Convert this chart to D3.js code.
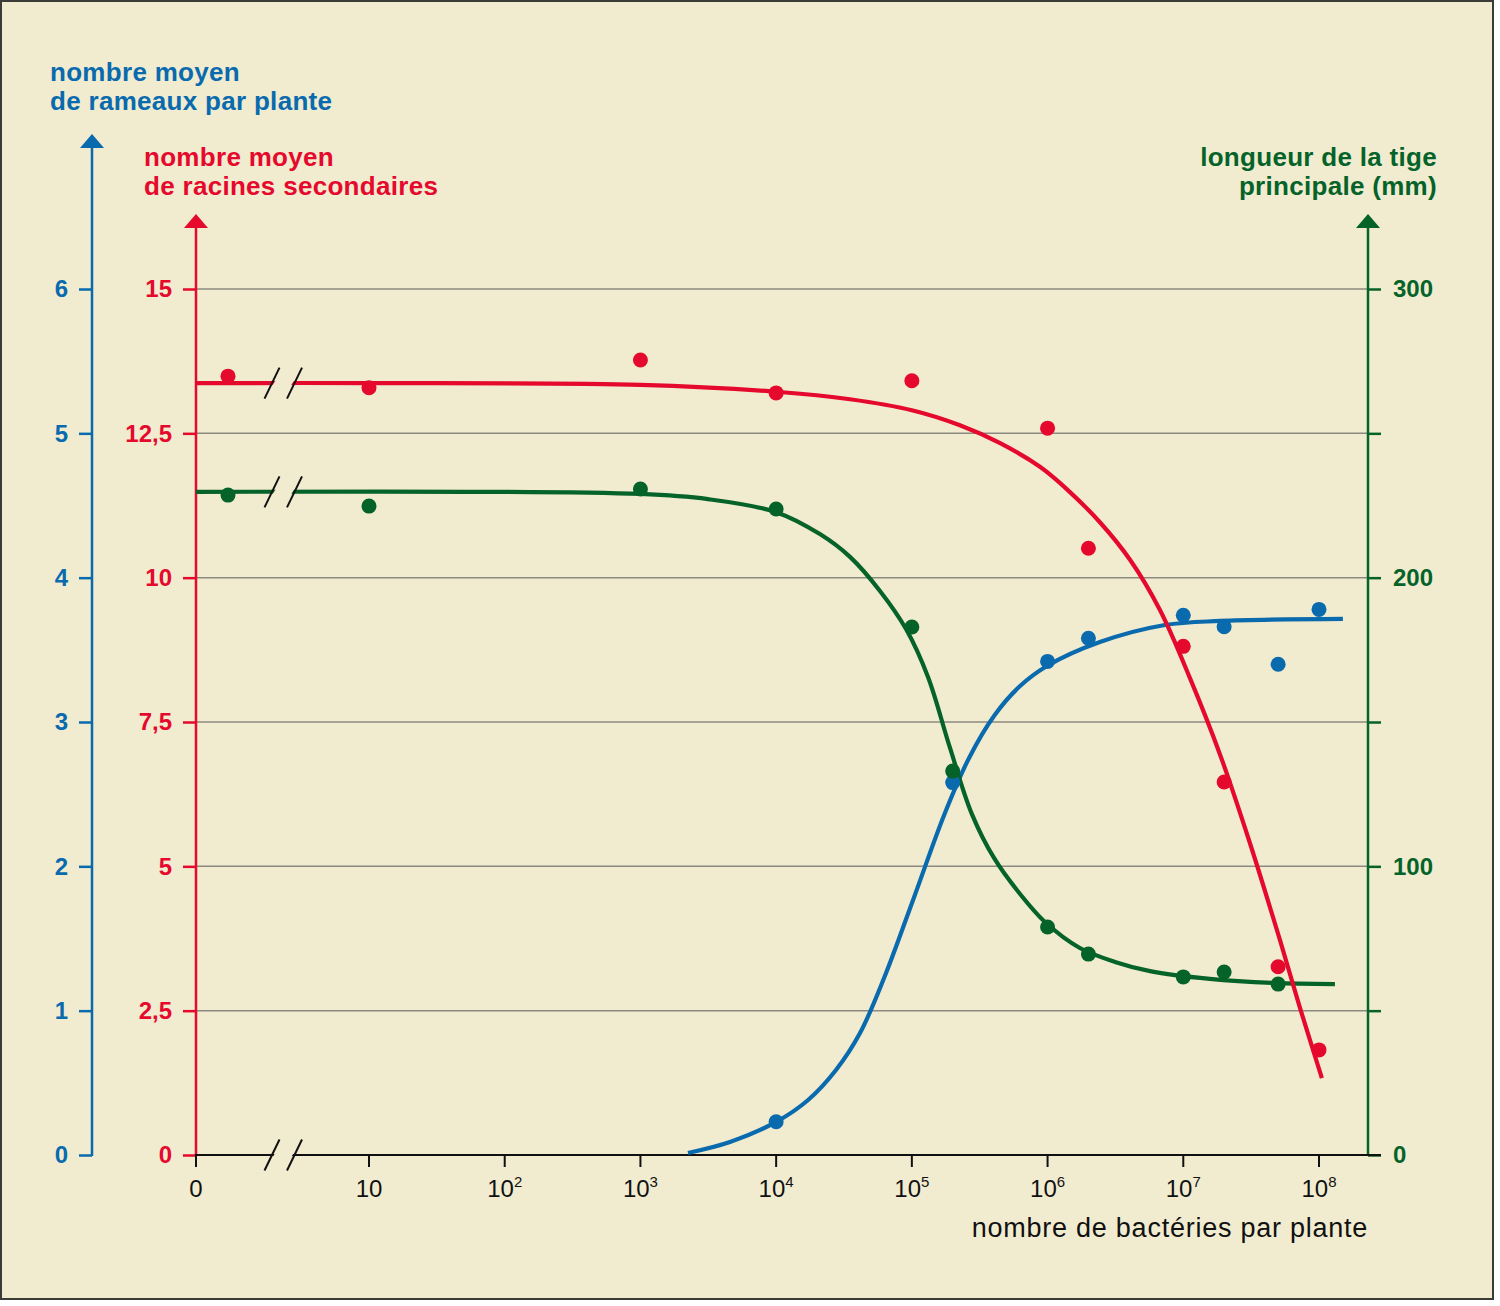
<!DOCTYPE html>
<html>
<head>
<meta charset="utf-8">
<script src="https://cdn.jsdelivr.net/npm/d3@7/dist/d3.min.js"></script>
<style>
  html, body { margin: 0; padding: 0; background: #ffffff; }
  svg { display: block; }
  text { font-family: "Liberation Sans", Arial, sans-serif; }
</style>
</head>
<body>
<svg id="chart" width="1500" height="1306"></svg>
<script>
// ---------- DATA ----------
// x: number of bacteria per plant (0 = control, plotted before the axis break)
const xTickValues = [10, 100, 1e3, 1e4, 1e5, 1e6, 1e7, 1e8];
const xTickExponents = ["", "2", "3", "4", "5", "6", "7", "8"];

// red: mean number of secondary roots
const redN      = [0, 10, 1e3, 1e4, 1e5, 1e6, 2e6, 1e7, 2e7, 5e7, 1e8];
const redValues = [13.49, 13.29, 13.77, 13.20, 13.41, 12.59, 10.51, 8.81, 6.46, 3.26, 1.82];
// green: length of main stem (mm)
const greenN      = [0, 10, 1e3, 1e4, 1e5, 2e5, 1e6, 2e6, 1e7, 2e7, 5e7];
const greenValues = [228.6, 224.8, 230.7, 223.8, 182.9, 133.0, 79.0, 69.6, 61.7, 63.4, 59.2];
// blue: mean number of branches per plant
const blueN      = [1e4, 2e5, 1e6, 2e6, 1e7, 2e7, 5e7, 1e8];
const blueValues = [0.23, 2.58, 3.42, 3.58, 3.74, 3.66, 3.40, 3.78];

// fitted curves
const redFitN = [0, 10, 1e3, 1e4, 3.5e4, 1e5, 2.26e5, 4.47e5, 8.79e5, 1.39e6, 2.43e6, 4.05e6, 6.73e6, 1.12e7, 1.87e7, 3.10e7, 5.16e7, 7.24e7, 1.05e8];
const redFitV = [13.37, 13.37, 13.34, 13.22, 13.09, 12.90, 12.64, 12.33, 11.92, 11.53, 10.96, 10.31, 9.44, 8.26, 6.93, 5.40, 3.72, 2.55, 1.33];
const greenFitN = [0, 1e3, 3.15e3, 1e4, 2.1e4, 3.5e4, 5.82e4, 9.06e4, 1.315e5, 1.91e5, 2.77e5, 4.03e5, 6.27e5, 9.57e5, 1.73e6, 3.14e6, 5.69e6, 1.57e7, 4.58e7, 1.31e8];
const greenFitV = [229.7, 229.0, 227.2, 222.7, 215.1, 207.2, 195.4, 182.2, 165.6, 141.0, 118.1, 102.9, 90.4, 80.7, 71.7, 66.9, 63.7, 61.0, 59.6, 59.2];
const blueFitN = [2.24e3, 4.57e3, 1e4, 1.72e4, 2.76e4, 4.15e4, 6.24e4, 1.04e5, 1.73e5, 2.64e5, 4.03e5, 6.27e5, 9.9e5, 2.43e6, 7.33e6, 1.87e7, 1.5e8];
const blueFitV = [0.014, 0.090, 0.229, 0.381, 0.589, 0.845, 1.226, 1.788, 2.356, 2.751, 3.042, 3.249, 3.388, 3.554, 3.672, 3.700, 3.714];

// axis ticks
const blueTicks = [0, 1, 2, 3, 4, 5, 6];
const redTicks = [0, 2.5, 5, 7.5, 10, 12.5, 15];
const greenTicks = [0, 50, 100, 150, 200, 250, 300];
const greenLabelled = [0, 100, 200, 300];

const blueTitle = ["nombre moyen", "de rameaux par plante"];
const redTitle = ["nombre moyen", "de racines secondaires"];
const greenTitle = ["longueur de la tige", "principale (mm)"];
const xTitle = "nombre de bactéries par plante";

// ---------- STYLE / LAYOUT ----------
const BG = "#f1ecd0";
const RED = "#e5092d", BLUE = "#0a6aae", GREEN = "#05632a", GRID = "#8c8a80";
const Y0 = 1155, YTOP = 289;
const X_ORIGIN = 196, X_RIGHT = 1368, CONTROL_X = 228;
const BLUE_AXIS_X = 92;

const svg = d3.select("#chart");
svg.append("rect").attr("x", 1).attr("y", 1).attr("width", 1492).attr("height", 1298)
  .attr("fill", BG).attr("stroke", "#3b3b38").attr("stroke-width", 2);

const xLog = d3.scaleLog().domain([10, 1e8]).range([369, 1319]);
const fx = n => n === 0 ? X_ORIGIN : xLog(n);
const px = n => n === 0 ? CONTROL_X : xLog(n);
const yRed = d3.scaleLinear().domain([0, 15]).range([Y0, YTOP]);
const yBlue = d3.scaleLinear().domain([0, 6]).range([Y0, YTOP]);
const yGreen = d3.scaleLinear().domain([0, 300]).range([Y0, YTOP]);

// gridlines
svg.append("g").selectAll("line").data(redTicks.filter(d => d > 0)).join("line")
  .attr("x1", X_ORIGIN).attr("x2", X_RIGHT)
  .attr("y1", d => yRed(d)).attr("y2", d => yRed(d))
  .attr("stroke", GRID).attr("stroke-width", 1.5);

// ---------- Y AXES ----------
function styleAxis(g, color) {
  g.select(".domain").remove();
  g.selectAll(".tick line").attr("stroke", color).attr("stroke-width", 2.5);
  g.selectAll(".tick text").attr("fill", color)
    .style("font-family", "'Liberation Sans', Arial, sans-serif")
    .style("font-size", "24px").style("font-weight", "bold");
}
function arrowAxis(x, yTipVal, color) {
  svg.append("line").attr("x1", x).attr("x2", x).attr("y1", Y0 + 1).attr("y2", yTipVal + 12)
    .attr("stroke", color).attr("stroke-width", 2.5);
  svg.append("path").attr("d", `M${x},${yTipVal} L${x - 12},${yTipVal + 14} L${x + 12},${yTipVal + 14} Z`)
    .attr("fill", color);
}

const gBlue = svg.append("g").attr("transform", `translate(${BLUE_AXIS_X},0)`)
  .call(d3.axisLeft(yBlue).tickValues(blueTicks).tickSize(13).tickPadding(11).tickFormat(d3.format("d")));
styleAxis(gBlue, BLUE);
arrowAxis(BLUE_AXIS_X, 134, BLUE);

const gRed = svg.append("g").attr("transform", `translate(${X_ORIGIN},0)`)
  .call(d3.axisLeft(yRed).tickValues(redTicks).tickSize(13).tickPadding(11)
    .tickFormat(d => String(d).replace(".", ",")));
styleAxis(gRed, RED);
arrowAxis(X_ORIGIN, 214, RED);

const gGreen = svg.append("g").attr("transform", `translate(${X_RIGHT},0)`)
  .call(d3.axisRight(yGreen).tickValues(greenTicks).tickSize(13).tickPadding(12)
    .tickFormat(d => greenLabelled.includes(d) ? d : ""));
styleAxis(gGreen, GREEN);
arrowAxis(X_RIGHT, 214, GREEN);

// ---------- X AXIS ----------
svg.append("line").attr("x1", X_ORIGIN - 1).attr("x2", X_RIGHT + 13).attr("y1", Y0).attr("y2", Y0)
  .attr("stroke", "#111").attr("stroke-width", 2);
const xt = svg.append("g");
[0].concat(xTickValues).forEach((v, i) => {
  const x = fx(v);
  xt.append("line").attr("x1", x).attr("x2", x).attr("y1", Y0).attr("y2", Y0 + 12)
    .attr("stroke", "#111").attr("stroke-width", 2);
  const t = xt.append("text").attr("x", x).attr("y", 1197).attr("text-anchor", "middle")
    .attr("fill", "#111").style("font-size", "24px");
  if (v === 0) { t.text("0"); }
  else {
    t.append("tspan").text("10");
    const e = xTickExponents[i - 1];
    if (e) t.append("tspan").attr("dy", -10).style("font-size", "15px").text(e);
  }
});
svg.append("text").attr("x", X_RIGHT).attr("y", 1237).attr("text-anchor", "end")
  .attr("fill", "#111").style("font-size", "27px").style("letter-spacing", "0.75px").text(xTitle);

// ---------- CURVES ----------
const line = d3.line().curve(d3.curveCatmullRom.alpha(0.5));
function drawFit(N, V, yS, color) {
  svg.append("path").attr("d", line(N.map((n, i) => [fx(n), yS(V[i])])))
    .attr("fill", "none").attr("stroke", color).attr("stroke-width", 4.2);
}
drawFit(blueFitN, blueFitV, yBlue, BLUE);
drawFit(greenFitN, greenFitV, yGreen, GREEN);
drawFit(redFitN, redFitV, yRed, RED);

// axis breaks
function breakMark(cy) {
  const g = svg.append("g");
  const x1 = 272, x2 = 294.5, dx = 7.5, dy = 15.5;
  g.append("path").attr("d", `M${x1 - dx + 2},${cy + dy - 4} L${x1 + dx + 2},${cy - dy + 4} L${x2 + dx - 2},${cy - dy + 4} L${x2 - dx - 2},${cy + dy - 4} Z`)
    .attr("fill", BG);
  [x1, x2].forEach(x => g.append("line")
    .attr("x1", x - dx).attr("y1", cy + dy).attr("x2", x + dx).attr("y2", cy - dy)
    .attr("stroke", "#111").attr("stroke-width", 2));
}
breakMark(Y0);
breakMark(yRed(redFitV[0]));
breakMark(yGreen(greenFitV[0]));

// ---------- POINTS ----------
function drawPoints(N, V, yS, color) {
  svg.append("g").selectAll("circle").data(N).join("circle")
    .attr("cx", d => px(d)).attr("cy", (d, i) => yS(V[i])).attr("r", 7.5).attr("fill", color);
}
drawPoints(blueN, blueValues, yBlue, BLUE);
drawPoints(greenN, greenValues, yGreen, GREEN);
drawPoints(redN, redValues, yRed, RED);

// ---------- TITLES ----------
function title(lines, x, y0, anchor, color) {
  const t = svg.append("text").attr("text-anchor", anchor).attr("fill", color)
    .style("font-size", "26px").style("font-weight", "bold").style("letter-spacing", "0.3px");
  lines.forEach((s, i) => t.append("tspan").attr("x", x).attr("y", y0 + i * 29).text(s));
}
title(blueTitle, 50, 81, "start", BLUE);
title(redTitle, 144, 166, "start", RED);
title(greenTitle, 1437, 166, "end", GREEN);
</script>
</body>
</html>
